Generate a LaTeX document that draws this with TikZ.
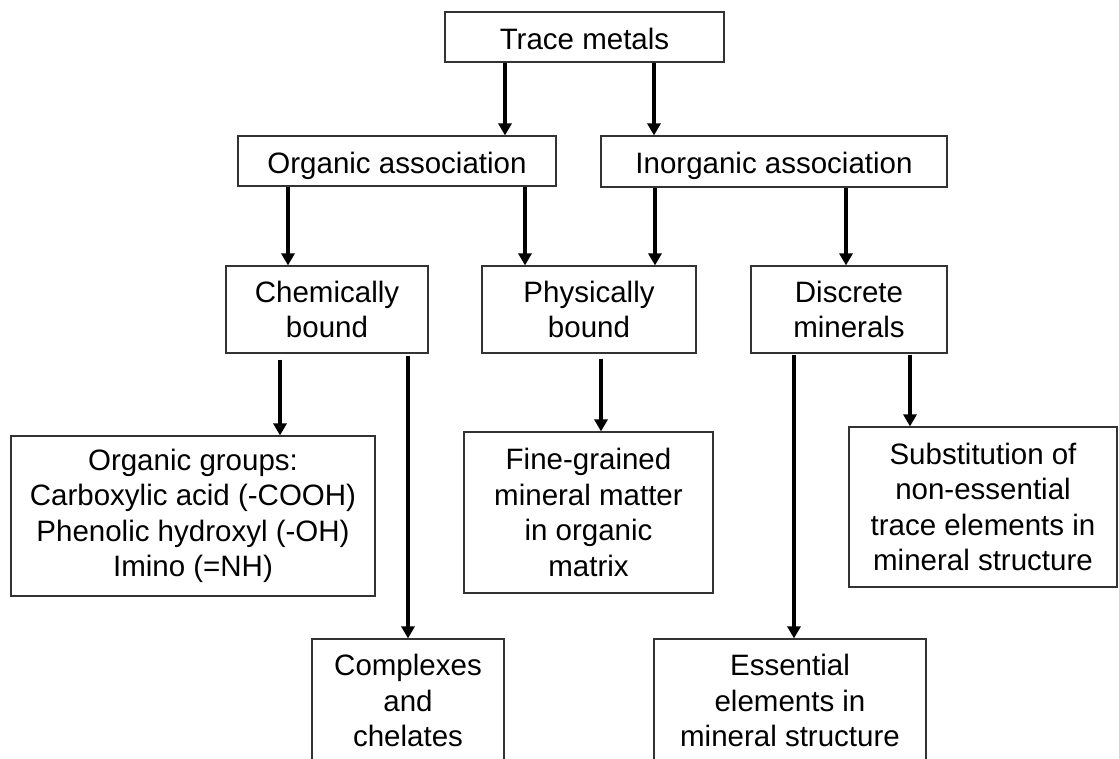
\documentclass[tikz,border=0pt]{standalone}
\usepackage{fontspec}
\setmainfont{Liberation Sans}
\usetikzlibrary{arrows.meta}
\begin{document}
\begin{tikzpicture}[x=1pt,y=-1pt,
  box/.style={draw=black!80, line width=1.2pt, fill=white, inner sep=0pt, align=center,
    font=\fontsize{29.5}{35.5}\selectfont},
  oneline/.style={text height=24pt, text depth=0pt},
  arr/.style={line width=4pt, -{Triangle[width=13pt,length=12pt]}}]
\fill[white] (0,0) rectangle (1119,758);
\clip (0,0) rectangle (1119,758);
% level 0
\node[box, oneline, minimum width=279pt, minimum height=50pt] (tm) at (584.5,37) {Trace metals};
% level 1
\node[box, oneline, minimum width=318pt, minimum height=50pt] (org) at (397,161) {Organic association};
\node[box, oneline, minimum width=346pt, minimum height=51pt] (inorg) at (774,161.5) {Inorganic association};
% level 2
\node[box, minimum width=202pt, minimum height=87pt] (chem) at (327,309.5) {Chemically\\bound};
\node[box, minimum width=214pt, minimum height=87pt] (phys) at (589,309.5) {Physically\\bound};
\node[box, minimum width=196pt, minimum height=87pt] (disc) at (849,309.5) {Discrete\\minerals};
% level 3
\node[box, minimum width=364pt, minimum height=160pt] (ogr) at (193,516) {Organic groups:\\Carboxylic acid (-COOH)\\Phenolic hydroxyl (-OH)\\Imino (=NH)};
\node[box, minimum width=249pt, minimum height=161pt] (fine) at (588.5,512.5) {Fine-grained\\mineral matter\\in organic\\matrix};
\node[box, minimum width=268pt, minimum height=160pt] (subst) at (983,507) {Substitution of\\non-essential\\trace elements in\\mineral structure};
% level 4
\node[box, minimum width=192pt, minimum height=123pt] (compl) at (408,700.5) {Complexes\\and\\chelates};
\node[box, minimum width=272pt, minimum height=123pt] (ess) at (790,700.5) {Essential\\elements in\\mineral structure};
% arrows
\draw[arr] ([xshift=-79.5pt]tm.south) -- ([xshift=-79.5pt]tm.south |- org.north);
\draw[arr] ([xshift=69.5pt]tm.south) -- ([xshift=69.5pt]tm.south |- inorg.north);
\draw[arr] ([xshift=-109pt]org.south) -- ([xshift=-109pt]org.south |- chem.north);
\draw[arr] ([xshift=128pt]org.south) -- ([xshift=128pt]org.south |- phys.north);
\draw[arr] ([xshift=-119pt]inorg.south) -- ([xshift=-119pt]inorg.south |- phys.north);
\draw[arr] ([xshift=72pt]inorg.south) -- ([xshift=72pt]inorg.south |- disc.north);
\draw[arr, shorten <=6pt] ([xshift=-47pt]chem.south) -- ([xshift=-47pt]chem.south |- ogr.north);
\draw[arr, shorten <=2pt] ([xshift=81pt]chem.south) -- ([xshift=81pt]chem.south |- compl.north);
\draw[arr, shorten <=5pt] ([xshift=12pt]phys.south) -- ([xshift=12pt]phys.south |- fine.north);
\draw[arr, shorten <=1pt] ([xshift=-55pt]disc.south) -- ([xshift=-55pt]disc.south |- ess.north);
\draw[arr, shorten <=1pt] ([xshift=61pt]disc.south) -- ([xshift=61pt]disc.south |- subst.north);
\end{tikzpicture}
\end{document}
